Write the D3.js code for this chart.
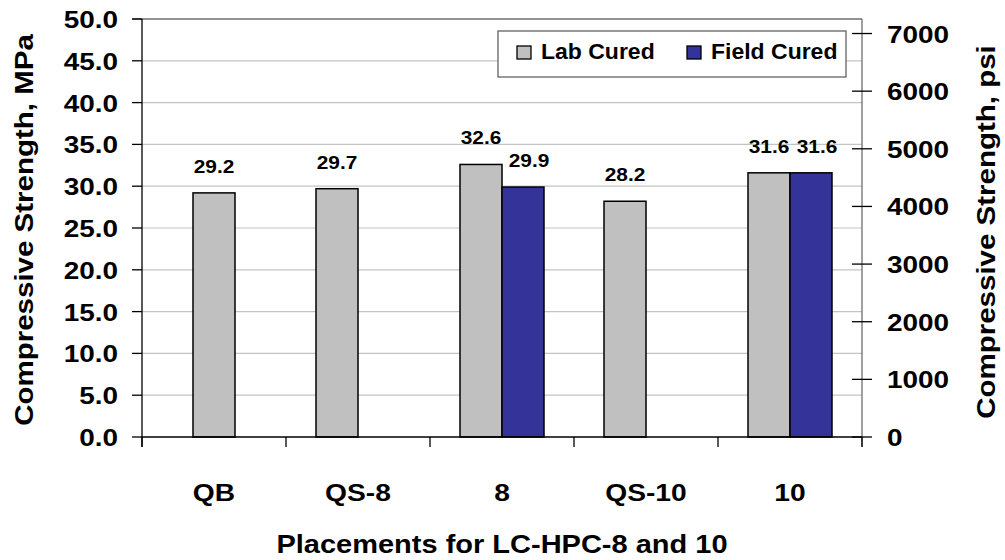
<!DOCTYPE html>
<html>
<head>
<meta charset="utf-8">
<script src="https://cdn.jsdelivr.net/npm/d3@7"></script>
<style>
  html, body { margin: 0; padding: 0; background: #fff; }
  svg { display: block; }
  text { font-family: "Liberation Sans", Arial, sans-serif; font-weight: bold; fill: #000; }
</style>
</head>
<body>
<svg id="chart" width="1005" height="560"></svg>
<script>
// Placements and their compressive strengths (MPa)
const categories = ["QB", "QS-8", "8", "QS-10", "10"];
const labCured   = [29.2, 29.7, 32.6, 28.2, 31.6];
const fieldCured = [null, null, 29.9, null, 31.6];
const seriesNames = ["Lab Cured", "Field Cured"];
const mpaTicks = [0, 5, 10, 15, 20, 25, 30, 35, 40, 45, 50];
const psiTicks = [0, 1000, 2000, 3000, 4000, 5000, 6000, 7000];
const PSI_PER_MPA = 145.038;

const svg = d3.select("#chart");
const plotL = 142, plotR = 862, plotT = 19, plotB = 437;
const SX = 1.15; // horizontal stretch of the lettering

const x = d3.scaleBand().domain(categories).range([plotL, plotR]).padding(0);
const y = d3.scaleLinear().domain([0, 50]).range([plotB, plotT]);
const yPsi = d3.scaleLinear().domain([0, 50 * PSI_PER_MPA]).range([plotB, plotT]);

// draws a text item, widened along its own baseline, optionally rotated
function label(g, str, px, py, size, anchor, sx, rot) {
  return g.append("text")
    .attr("transform", `translate(${px},${py}) rotate(${rot || 0}) scale(${sx ?? SX},1)`)
    .attr("text-anchor", anchor || "middle")
    .style("font-size", size + "px")
    .text(str);
}

// gridlines
svg.append("g").selectAll("line").data(mpaTicks.slice(1, -1)).join("line")
  .attr("x1", plotL).attr("x2", plotR)
  .attr("y1", d => y(d)).attr("y2", d => y(d))
  .attr("stroke", "#c4c4c4").attr("stroke-width", 1.2);

// plot border along the top
svg.append("line").attr("x1", plotL - 10).attr("x2", plotR).attr("y1", plotT).attr("y2", plotT)
  .attr("stroke", "#6e6e6e").attr("stroke-width", 1.3);

// bars
const barW = 42;
const single = new Set(["QB"]); // this placement's single bar sits in the middle of its slot
const bars = [];
categories.forEach((c, i) => {
  const cx = x(c) + x.bandwidth() / 2;
  const hasField = fieldCured[i] != null;
  const labX = (single.has(c) && !hasField) ? cx - barW / 2 : cx - barW;
  bars.push({ c, v: labCured[i], x0: labX, fill: "#c0c0c0", shift: 0 });
  if (hasField) bars.push({ c, v: fieldCured[i], x0: cx, fill: "#333399", shift: 6 });
});

svg.append("g").selectAll("rect").data(bars).join("rect")
  .attr("x", d => d.x0).attr("width", barW)
  .attr("y", d => y(d.v)).attr("height", d => y(0) - y(d.v))
  .attr("fill", d => d.fill).attr("stroke", "#000").attr("stroke-width", 1.5);

// value labels
const vl = svg.append("g");
bars.forEach(d => label(vl, d.v.toFixed(1), d.x0 + barW / 2 + d.shift, y(d.v) - 20, 18.5, "middle", 1.13));

// left axis
const la = svg.append("g");
la.append("line").attr("x1", plotL).attr("x2", plotL).attr("y1", plotT).attr("y2", plotB + 10)
  .attr("stroke", "#000").attr("stroke-width", 1.3);
mpaTicks.forEach(t => {
  la.append("line").attr("x1", plotL - 10).attr("x2", plotL).attr("y1", y(t)).attr("y2", y(t))
    .attr("stroke", "#000").attr("stroke-width", 1.3);
  label(la, t.toFixed(1), 118, y(t) + 9, 24.5, "end", 1.14);
});

// right axis (psi)
const ra = svg.append("g");
ra.append("line").attr("x1", plotR).attr("x2", plotR).attr("y1", plotT).attr("y2", plotB + 10)
  .attr("stroke", "#6e6e6e").attr("stroke-width", 1.3);
psiTicks.forEach(t => {
  ra.append("line").attr("x1", plotR - 10).attr("x2", plotR + 10).attr("y1", yPsi(t)).attr("y2", yPsi(t))
    .attr("stroke", "#000").attr("stroke-width", 1.3);
  label(ra, String(t), 887, yPsi(t) + 9, 24.5, "start", 1.14);
});

// bottom axis
const ba = svg.append("g");
ba.append("line").attr("x1", plotL).attr("x2", plotR).attr("y1", plotB).attr("y2", plotB)
  .attr("stroke", "#000").attr("stroke-width", 1.3);
const bounds = categories.map(c => x(c)).concat([plotR]);
ba.selectAll("line.tk").data(bounds).join("line").attr("class", "tk")
  .attr("x1", d => d).attr("x2", d => d).attr("y1", plotB).attr("y2", plotB + 10)
  .attr("stroke", "#000").attr("stroke-width", 1.3);
categories.forEach(c => label(ba, c, x(c) + x.bandwidth() / 2, 501, 23.5, "middle", 1.2));

// axis titles
label(svg, "Placements for LC-HPC-8 and 10", (plotL + plotR) / 2, 553, 25, "middle", 1.16);
label(svg, "Compressive Strength, MPa", 33, 230, 25, "middle", 1.18, -90);
label(svg, "Compressive Strength, psi", 995, 232, 25, "middle", 1.18, -90);

// legend
const lg = svg.append("g");
lg.append("rect").attr("x", 498).attr("y", 31).attr("width", 348).attr("height", 46)
  .attr("fill", "#fff").attr("stroke", "#555").attr("stroke-width", 1.2);
const legendItems = [
  { name: seriesNames[0], fill: "#c0c0c0", sx: 517, tx: 541 },
  { name: seriesNames[1], fill: "#333399", sx: 687, tx: 711 }
];
legendItems.forEach(it => {
  lg.append("rect").attr("x", it.sx).attr("y", 46).attr("width", 14).attr("height", 13)
    .attr("fill", it.fill).attr("stroke", "#000").attr("stroke-width", 1.3);
  label(lg, it.name, it.tx, 58.5, 21.5, "start", 1.07);
});
</script>
</body>
</html>
